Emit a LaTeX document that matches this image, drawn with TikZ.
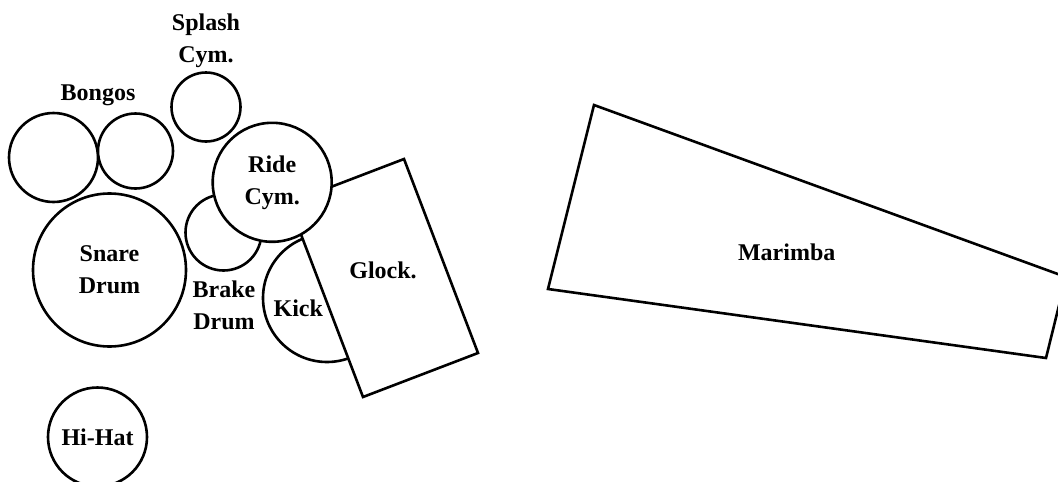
\documentclass[tikz,border=0pt]{standalone}
\usepackage{fontspec}
\setmainfont{Liberation Serif}

\begin{document}
\begin{tikzpicture}[x=1pt,y=-1pt,line width=2.6pt,line join=miter,
    drum/.style={circle,draw,fill=white,inner sep=0pt,align=center,font=\bfseries\fontsize{24}{32}\selectfont},
    tag/.style={inner sep=0pt,align=center,font=\bfseries\fontsize{24}{32}\selectfont}]
                \useasboundingbox (0,0) rectangle (1058,482);
                \clip (0,0) rectangle (1058,482);

                % left side: drums and cymbals
                \node[drum,minimum size=89pt] (bongo1) at (53.5,157.5) {};
                \node[drum,minimum size=75pt] (bongo2) at (135.5,151) {};
                \node[drum,minimum size=69pt] (splash) at (206,107) {};
                \node[drum,minimum size=153pt] (snare) at (109.5,270) {Snare\\Drum};
                \node[drum,minimum size=99pt] (hihat) at (97.5,437) {Hi-Hat};
                \node[drum,minimum size=128pt] (kick) at (327,298) {};

                % glockenspiel
                \coordinate (g1) at (289,203);
                \coordinate (g2) at (404,159);
                \coordinate (g3) at (478,353);
                \coordinate (g4) at (363,397);
                \draw[fill=white] (g1) -- (g2) -- (g3) -- (g4) -- cycle;

                \node[drum,minimum size=76pt] (brake) at (223.5,232.5) {};
                \node[drum,minimum size=119pt] (ride) at (272.2,182.3) {Ride\\Cym.};

                % marimba
                \coordinate (m1) at (594,105);
                \coordinate (m2) at (1066,277);
                \coordinate (m3) at (1046,358);
                \coordinate (m4) at (548,289);
                \draw (m1) -- (m2) -- (m3) -- (m4) -- cycle;

                \node[tag] (bongos) at (98,95) {Bongos};
                \node[tag] (splash text) at (206,41) {Splash\\Cym.};
                \node[tag] (brake text) at (224,305) {Brake\\Drum};
                \node[tag] (kick text) at (298.3,308.5) {Kick};
                \node[tag] (glock) at (383,270) {Glock.};
                \node[tag] (marimba) at (786.7,252) {Marimba};
            \end{tikzpicture}
\end{document}
